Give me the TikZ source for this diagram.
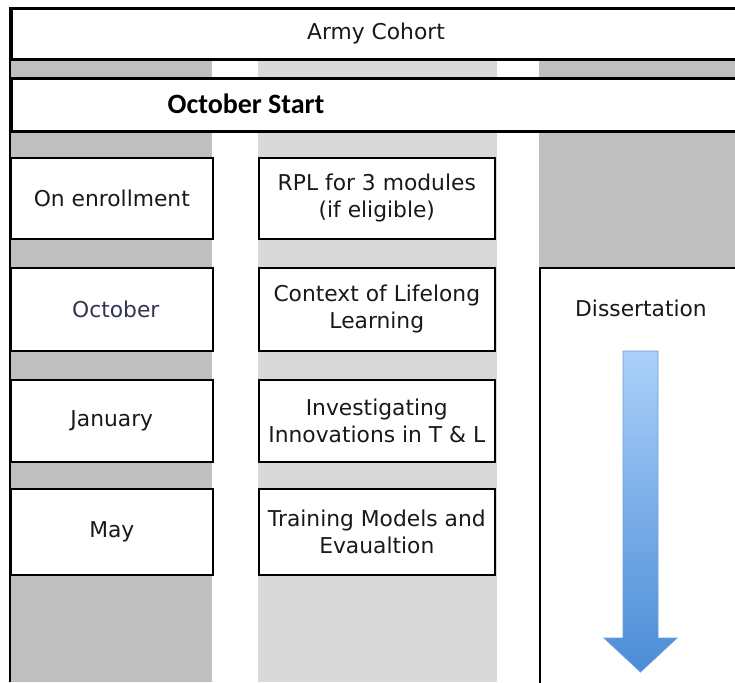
\documentclass[tikz,border=0pt]{standalone}
\usepackage{fontspec}
\setmainfont{DejaVu Sans}
\newfontfamily\calfont{Carlito}
\definecolor{gdark}{HTML}{BFBFBF}
\definecolor{glight}{HTML}{D9D9D9}
\definecolor{octcol}{HTML}{333355}
\definecolor{arrtop}{HTML}{ABD0FA}
\definecolor{arrbot}{HTML}{4A8CD6}
\definecolor{arredge}{HTML}{6A9FDA}
\begin{document}
\begin{tikzpicture}[x=1pt,y=-1pt,
  txt/.style={font=\fontsize{21.8}{27}\selectfont, text=black!90, align=center, inner sep=0pt},
  cell/.style={draw=black, line width=1.6pt, fill=white, anchor=north west, inner sep=0pt},
  band/.style={draw=black, line width=2.6pt, fill=white, anchor=north west, inner sep=0pt}]
\useasboundingbox (0,0) rectangle (735,682);
\clip (0,0) rectangle (735,682);
\fill[white] (0,0) rectangle (735,682);
% strip between the two bands
\fill[gdark]  (10,58) rectangle (212,77);
\fill[glight] (258,58) rectangle (497,77);
\fill[gdark]  (539,58) rectangle (745,77);
% columns
\fill[gdark]  (10,130) rectangle (212,682);
\fill[glight] (258,130) rectangle (497,682);
\fill[gdark]  (539,130) rectangle (745,267);
% bands
\node[band, minimum width=740pt, minimum height=51pt] (army) at (10,7) {};
\node[txt] (armyt) at (376,33) {Army Cohort};
\node[band, minimum width=740pt, minimum height=53pt] (oct) at (10,77) {};
\node[font=\calfont\bfseries\fontsize{28}{32}\selectfont, inner sep=0pt] (octt) at (246,104) {October Start};
% left edge line
\draw[line width=2pt] (army.north west) -- (10,682);
% column 1
\node[cell, minimum width=202pt, minimum height=81pt] (c1a) at (10,157) {};
\node[txt] at (c1a.center) {On enrollment};
\node[cell, minimum width=202pt, minimum height=83pt] (c1b) at (10,267) {};
\node[txt, text=octcol] at ([xshift=4pt]c1b.center) {October};
\node[cell, minimum width=202pt, minimum height=82pt] (c1c) at (10,379) {};
\node[txt] at (c1c.center) {January};
\node[cell, minimum width=202pt, minimum height=86pt] (c1d) at (10,488) {};
\node[txt] at (c1d.center) {May};
% column 2
\node[cell, minimum width=236pt, minimum height=81pt] (c2a) at (258,157) {};
\node[txt] at (c2a.center) {RPL for 3 modules\\(if eligible)};
\node[cell, minimum width=236pt, minimum height=83pt] (c2b) at (258,267) {};
\node[txt] at (c2b.center) {Context of Lifelong\\Learning};
\node[cell, minimum width=236pt, minimum height=82pt] (c2c) at (258,379) {};
\node[txt] at (c2c.center) {Investigating\\Innovations in T \& L};
\node[cell, minimum width=236pt, minimum height=86pt] (c2d) at (258,488) {};
\node[txt] at (c2d.center) {Training Models and\\Evaualtion};
% column 3
\node[cell, minimum width=220pt, minimum height=430pt] (diss) at (539,267) {};
\node[txt] (disst) at (641,308) {Dissertation};
% arrow
\shade[top color=arrtop, bottom color=arrbot, draw=arredge, line width=0.8pt]
  (623,351) -- (658,351) -- (658,638) -- (677,638) -- (640.5,672) -- (604,638) -- (623,638) -- cycle;
\end{tikzpicture}
\end{document}
